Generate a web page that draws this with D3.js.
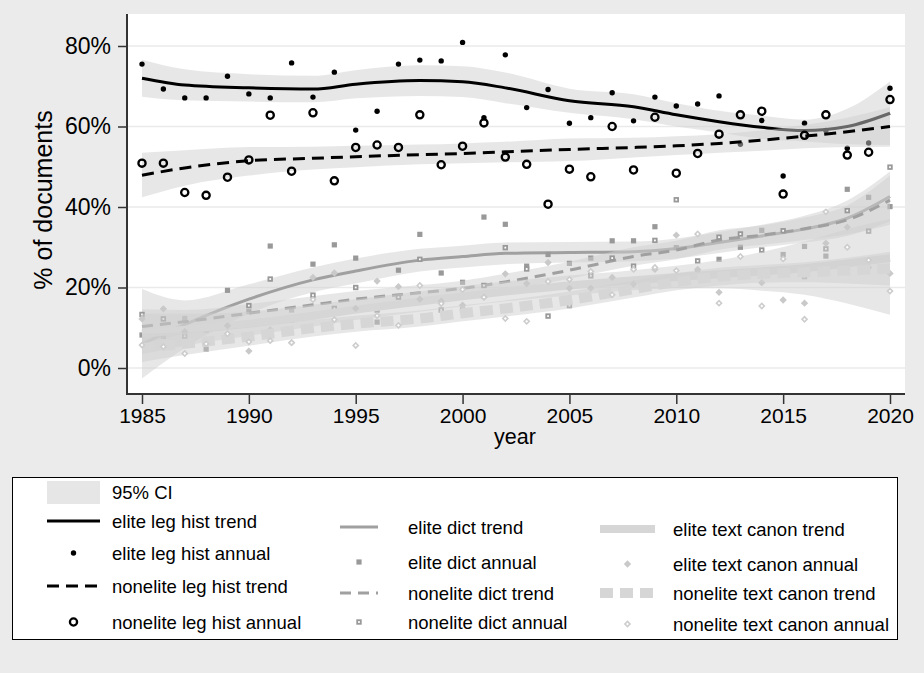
<!DOCTYPE html>
<html><head><meta charset="utf-8">
<script src="https://cdn.jsdelivr.net/npm/d3@7/dist/d3.min.js"></script>
<style>
body{margin:0;background:#ebebeb;}
svg{display:block;font-family:"Liberation Sans",Arial,sans-serif;}
</style></head>
<body><svg id="chart" width="924" height="673"></svg>
<script>
// ---------------- DATA ----------------
const years = [1985,1986,1987,1988,1989,1990,1991,1992,1993,1994,1995,1996,1997,1998,1999,2000,2001,2002,2003,2004,2005,2006,2007,2008,2009,2010,2011,2012,2013,2014,2015,2016,2017,2018,2019,2020];
const eliteLegHistAnnual = [75.5,69.3,67.1,67.1,72.5,68.1,67.1,75.8,67.3,73.5,59.1,63.8,75.5,76.5,76.3,80.9,62.2,77.8,64.7,69.2,60.8,62.2,68.4,61.4,67.3,65.1,65.6,67.6,55.6,61.5,47.7,60.8,59.0,54.6,55.9,69.5];
const nonEliteLegHistAnnual = [50.9,50.9,43.6,42.9,47.4,51.7,62.8,48.9,63.4,46.5,54.8,55.4,54.8,62.9,50.5,55.1,60.9,52.4,50.6,40.7,49.4,47.5,60.0,49.2,62.3,48.4,53.3,58.1,62.9,63.8,43.2,57.8,62.9,52.9,53.6,66.7];
const eliteDictAnnual = [8.2,7.9,12.3,4.7,19.3,14.0,30.3,14.4,25.8,30.6,27.3,11.4,24.3,33.2,23.6,21.3,37.5,35.7,25.3,28.2,26.0,27.3,31.6,31.6,35.1,29.9,23.9,27.0,30.0,34.2,28.2,30.2,27.8,44.4,42.4,40.1];
const nonEliteDictAnnual = [13.3,12.2,7.9,9.5,7.8,15.5,22.1,12.0,18.1,14.8,20.0,14.4,17.6,27.0,14.4,14.4,20.5,29.9,24.6,12.9,15.5,22.9,27.3,25.3,31.7,41.8,26.6,32.5,33.3,29.3,34.1,22.7,29.6,39.1,34.0,49.9];
const eliteTextCanonAnnual = [12.2,14.7,9.0,7.0,10.5,4.2,9.5,6.3,22.5,23.6,14.8,21.6,20.2,17.1,16.6,15.6,17.6,23.4,21.0,26.2,19.8,19.8,22.5,20.8,24.5,33.0,24.5,18.8,23.0,21.2,16.9,16.1,31.0,35.0,25.0,23.5];
const nonEliteTextCanonAnnual = [5.7,5.3,3.6,6.0,8.5,6.5,6.8,6.3,17.0,12.0,5.6,13.0,10.6,20.5,16.0,19.5,17.6,12.3,11.6,21.5,22.0,24.0,18.2,24.5,25.0,24.2,33.3,16.1,27.7,15.4,27.1,12.1,38.8,30.0,26.8,19.1];

// smoothed trends and 95% CI, read at these years
const trendYears = [1985,1987,1990,1993,1995,1998,2000,2002,2005,2008,2010,2012,2014,2016,2018,2020];
const eliteLegHistTrend = [72.0,70.3,69.6,69.3,70.5,71.4,71.1,69.6,66.4,64.9,62.9,61.2,59.8,59.0,60.0,63.3];
const eliteLegHistLo    = [67.4,66.5,66.2,66.0,67.0,67.6,67.3,65.8,63.4,61.8,60.0,58.5,56.9,56.3,55.6,55.4];
const eliteLegHistHi    = [76.6,74.2,73.0,72.6,74.0,75.2,75.0,73.4,69.4,68.0,65.8,63.9,62.7,61.7,64.4,71.2];
const nonEliteLegHistTrend = [47.9,49.7,51.5,52.1,52.5,53.0,53.3,53.7,54.3,54.8,55.2,55.8,56.6,57.6,58.7,60.0];
const nonEliteLegHistLo    = [42.4,45.3,47.8,49.3,49.9,50.6,50.9,51.1,51.4,52.3,52.9,53.5,54.0,54.6,54.9,55.0];
const nonEliteLegHistHi    = [53.5,54.1,54.9,55.0,55.2,55.5,55.8,56.2,57.0,57.2,57.6,58.1,59.0,60.4,62.2,64.8];
const eliteDictTrend = [6.0,10.8,17.1,21.9,24.1,26.8,27.7,28.5,28.7,28.9,29.7,31.2,32.8,34.5,37.2,42.6];
const eliteDictLo    = [-2.6,5.0,13.5,18.8,21.0,24.0,25.0,25.8,26.2,26.5,27.2,28.6,30.0,31.2,32.8,36.4];
const eliteDictHi    = [19.6,16.8,20.8,25.0,27.2,29.6,30.4,31.2,31.3,31.4,32.2,33.8,35.6,37.8,41.6,48.8];
const nonEliteDictTrend = [10.3,11.5,13.6,15.7,17.1,18.7,19.8,21.4,24.3,27.7,29.3,31.8,33.0,34.6,36.8,41.7];
const nonEliteDictLo    = [6.0,8.6,11.3,13.6,15.1,16.8,17.9,19.4,22.2,25.4,27.0,29.4,30.6,31.8,33.2,35.6];
const nonEliteDictHi    = [14.6,14.4,15.9,17.8,19.1,20.6,21.7,23.4,26.4,30.0,31.6,34.2,35.4,37.4,40.4,47.8];
const eliteTextCanonTrend = [8.5,9.5,11.0,13.0,14.5,16.5,17.8,19.0,20.5,21.8,22.6,23.3,24.0,24.8,26.0,27.3];
const eliteTextCanonLo    = [3.5,5.5,8.0,10.3,11.9,14.0,15.3,16.5,18.0,19.3,19.8,19.8,19.2,18.2,16.0,13.2];
const eliteTextCanonHi    = [13.5,13.5,14.0,15.7,17.1,19.0,20.3,21.5,23.0,24.3,25.4,26.8,28.8,31.4,34.5,37.0];
const nonEliteTextCanonTrend = [5.0,6.0,7.8,9.9,11.0,12.3,13.6,14.8,16.9,19.6,21.4,22.7,23.4,23.8,24.2,24.7];
const nonEliteTextCanonLo    = [1.5,3.2,5.5,7.8,9.0,10.3,11.6,12.8,14.8,17.5,19.3,20.5,21.2,21.3,21.0,20.5];
const nonEliteTextCanonHi    = [8.5,8.8,10.1,12.0,13.0,14.3,15.6,16.8,19.0,21.7,23.5,24.9,25.6,26.3,27.4,28.9];

const xTicks = [1985,1990,1995,2000,2005,2010,2015,2020];
const yTicks = [0,20,40,60,80];
const legendLabels = ["elite leg hist trend","elite leg hist annual","nonelite leg hist trend","nonelite leg hist annual",
  "elite dict trend","elite dict annual","nonelite dict trend","nonelite dict annual",
  "elite text canon trend","elite text canon annual","nonelite text canon trend","nonelite text canon annual"];

// ---------------- CHART ----------------
const svg = d3.select("#chart");
const P = {left:127, right:905, top:14, bottom:394};
const x = d3.scaleLinear().domain([1985,2020]).range([142,890]);
const y = d3.scaleLinear().domain([0,80]).range([368,46]);

svg.append("rect").attr("width",924).attr("height",673).attr("fill","#ebebeb");
svg.append("rect").attr("x",P.left).attr("y",P.top).attr("width",P.right-P.left).attr("height",P.bottom-P.top).attr("fill","#fff");

// gridlines
svg.append("g").selectAll("line").data(yTicks).join("line")
  .attr("x1",P.left).attr("x2",P.right).attr("y1",d=>y(d)).attr("y2",d=>y(d))
  .attr("stroke","#eaeaea").attr("stroke-width",1.6);

const BAND = "#cfcfcf", BANDOP = 0.5;
const series = [
  {pts:eliteLegHistAnnual, tr:eliteLegHistTrend, lo:eliteLegHistLo, hi:eliteLegHistHi, color:"#000", w:3, dash:null, mk:"dot"},
  {pts:nonEliteLegHistAnnual, tr:nonEliteLegHistTrend, lo:nonEliteLegHistLo, hi:nonEliteLegHistHi, color:"#000", w:3, dash:"12,7", mk:"circle"},
  {pts:eliteDictAnnual, tr:eliteDictTrend, lo:eliteDictLo, hi:eliteDictHi, color:"#a0a0a0", w:3, dash:null, mk:"square"},
  {pts:nonEliteDictAnnual, tr:nonEliteDictTrend, lo:nonEliteDictLo, hi:nonEliteDictHi, color:"#a0a0a0", w:3, dash:"11,7", mk:"hsquare"},
  {pts:eliteTextCanonAnnual, tr:eliteTextCanonTrend, lo:eliteTextCanonLo, hi:eliteTextCanonHi, color:"#d6d6d6", w:8, dash:null, mk:"diamond"},
  {pts:nonEliteTextCanonAnnual, tr:nonEliteTextCanonTrend, lo:nonEliteTextCanonLo, hi:nonEliteTextCanonHi, color:"#d6d6d6", w:10, dash:"13,7", mk:"hdiamond"}
];

const curve = d3.curveMonotoneX;
const area = d3.area().x((d,i)=>x(trendYears[i])).y0(d=>y(d[0])).y1(d=>y(d[1])).curve(curve);
const line = d3.line().x((d,i)=>x(trendYears[i])).y(d=>y(d)).curve(curve);

function marker(g, type, cx, cy){
  if(type==="dot") g.append("circle").attr("cx",cx).attr("cy",cy).attr("r",2.7).attr("fill","#000");
  else if(type==="circle") g.append("circle").attr("cx",cx).attr("cy",cy).attr("r",3.6).attr("fill","none").attr("stroke","#000").attr("stroke-width",2.3);
  else if(type==="square") g.append("rect").attr("x",cx-2.6).attr("y",cy-2.6).attr("width",5.2).attr("height",5.2).attr("fill","#999");
  else if(type==="hsquare") g.append("rect").attr("x",cx-1.8).attr("y",cy-1.8).attr("width",3.6).attr("height",3.6).attr("fill","#fff").attr("stroke","#999").attr("stroke-width",1.8);
  else if(type==="diamond") g.append("rect").attr("x",-2.6).attr("y",-2.6).attr("width",5.2).attr("height",5.2).attr("fill","#c9c9c9").attr("transform",`translate(${cx},${cy}) rotate(45)`);
  else if(type==="hdiamond") g.append("rect").attr("x",-1.8).attr("y",-1.8).attr("width",3.6).attr("height",3.6).attr("fill","#fff").attr("stroke","#cdcdcd").attr("stroke-width",1.6).attr("transform",`translate(${cx},${cy}) rotate(45)`);
}

const plot = svg.append("g");
series.forEach(s=>{
  const band = s.lo.map((l,i)=>[l, s.hi[i]]);
  plot.append("path").datum(band).attr("d",area).attr("fill",BAND).attr("fill-opacity",BANDOP);
  plot.append("path").datum(s.tr).attr("d",line).attr("fill","none").attr("stroke",s.color)
    .attr("stroke-width",s.w).attr("stroke-dasharray",s.dash);
  const g = plot.append("g");
  s.pts.forEach((v,i)=>marker(g, s.mk, x(years[i]), y(v)));
});

// axes
const yAxis = svg.append("g").attr("transform",`translate(${P.left},0)`)
  .call(d3.axisLeft(y).tickValues(yTicks).tickFormat(d=>d+"%").tickSize(9).tickPadding(7));
yAxis.select(".domain").remove();
yAxis.selectAll(".tick line").attr("stroke","#333").attr("stroke-width",1.5);
yAxis.selectAll("text").attr("font-size",23).attr("fill","#000").attr("font-family","Liberation Sans, Arial, sans-serif");
svg.append("line").attr("x1",P.left).attr("x2",P.left).attr("y1",P.top).attr("y2",P.bottom+1).attr("stroke","#333").attr("stroke-width",2);

const xAxis = svg.append("g").attr("transform",`translate(0,${P.bottom})`)
  .call(d3.axisBottom(x).tickValues(xTicks).tickFormat(d3.format("d")).tickSize(10).tickPadding(4));
xAxis.select(".domain").remove();
xAxis.selectAll(".tick line").attr("stroke","#333").attr("stroke-width",1.5);
xAxis.selectAll("text").attr("font-size",21).attr("fill","#000").attr("font-family","Liberation Sans, Arial, sans-serif");
svg.append("line").attr("x1",P.left-1).attr("x2",P.right).attr("y1",P.bottom).attr("y2",P.bottom).attr("stroke","#333").attr("stroke-width",2);

svg.append("text").attr("x",515).attr("y",444).attr("text-anchor","middle").attr("font-size",21.5).text("year");
svg.append("text").attr("transform","translate(52,200) rotate(-90)").attr("text-anchor","middle").attr("font-size",25).text("% of documents");

// ---------------- LEGEND ----------------
const L = svg.append("g");
L.append("rect").attr("x",12.5).attr("y",477.5).attr("width",885).attr("height",162).attr("fill","#fff").attr("stroke","#000").attr("stroke-width",1);
L.append("rect").attr("x",47).attr("y",481).attr("width",53).attr("height",23).attr("fill","#e6e6e6");
L.append("text").attr("x",112).attr("y",499).attr("font-size",18.5).text("95% CI");

const cols = [{x0:47,x1:100,tx:112,rows:[521,553,586,622]},
              {x0:340,x1:378,tx:408,rows:[527,562,593,622]},
              {x0:600,x1:655,tx:673,rows:[529,564,593,624]}];
cols.forEach((c,ci)=>{
  const s1 = series[ci*2], s2 = series[ci*2+1];
  const mid = (c.x0+c.x1)/2;
  const entries = [
    {kind:"line", s:s1}, {kind:"mk", s:s1}, {kind:"line", s:s2}, {kind:"mk", s:s2}
  ];
  entries.forEach((e,ri)=>{
    const yy = c.rows[ri];
    if(e.kind==="line"){
      L.append("line").attr("x1",c.x0).attr("x2",c.x1).attr("y1",yy).attr("y2",yy)
        .attr("stroke",e.s.color).attr("stroke-width",e.s.w).attr("stroke-dasharray",e.s.dash);
    } else marker(L, e.s.mk, mid, yy);
    L.append("text").attr("x",c.tx).attr("y",yy+6.5).attr("font-size",18.5).text(legendLabels[ci*4+ri]);
  });
});
</script></body></html>
